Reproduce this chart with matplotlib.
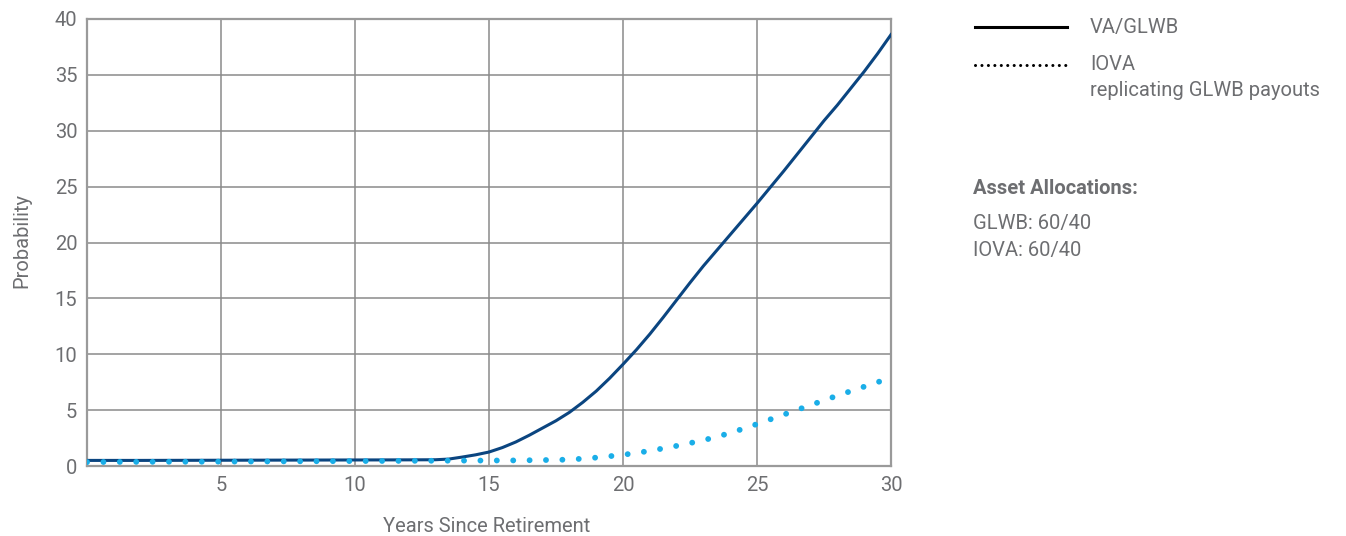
import matplotlib.pyplot as plt
from matplotlib.lines import Line2D

# VA/GLWB read at half-year steps so the bend stays smooth
va_years = [0, 2, 4, 6, 8, 10, 12, 13, 13.5, 14, 14.5, 15, 15.5, 16, 16.5, 17,
            17.5, 18, 18.5, 19, 19.5, 20, 20.5, 21, 21.5, 22, 22.5, 23, 23.5,
            24, 24.5, 25, 25.5, 26, 26.5, 27, 27.5, 28, 28.5, 29, 29.5, 30]
va_glwb = [0.50, 0.50, 0.51, 0.52, 0.53, 0.54, 0.55, 0.56, 0.62, 0.80, 1.00,
           1.25, 1.65, 2.15, 2.75, 3.40, 4.05, 4.80, 5.70, 6.70, 7.85, 9.10,
           10.40, 11.80, 13.30, 14.85, 16.40, 17.90, 19.30, 20.70, 22.10,
           23.50, 24.95, 26.40, 27.90, 29.40, 30.90, 32.30, 33.80, 35.30,
           36.90, 38.60]

iova_years = list(range(0, 31))
iova = [0.35, 0.36, 0.37, 0.38, 0.38, 0.39, 0.40, 0.41, 0.42, 0.43, 0.44,
        0.45, 0.46, 0.47, 0.48, 0.49, 0.50, 0.53, 0.57, 0.75, 1.0,
        1.35, 1.8, 2.3, 2.95, 3.75, 4.6, 5.45, 6.3, 7.1, 7.9]

x_ticks = [5, 10, 15, 20, 25, 30]
y_ticks = [0, 5, 10, 15, 20, 25, 30, 35, 40]

plt.rcParams["font.family"] = ["Roboto", "DejaVu Sans"]
gray = "#6d6e71"
fs = 14.5

fig = plt.figure(figsize=(13.46, 5.36), dpi=100)
W, H = 1346, 536
ax = fig.add_axes([87 / W, 1 - 466 / H, (891 - 87) / W, (466 - 19) / H])

ax.plot(va_years, va_glwb, color="#0b4580", linewidth=2.2, zorder=3)
ax.plot(iova_years, iova, color="#1aaee8", linewidth=4.2,
        linestyle=(0, (0.01, 2.8)), dash_capstyle="round", zorder=4)

ax.set_xlim(0, 30)
ax.set_ylim(0, 40)
ax.set_xticks(x_ticks)
ax.set_yticks(y_ticks)
ax.grid(True, color="#8a8a8a", linewidth=1.1)
ax.set_axisbelow(True)
ax.tick_params(length=0, labelsize=fs, labelcolor=gray, pad=7)
for s in ax.spines.values():
    s.set_color("#9a9a9a")
    s.set_linewidth(1.6)

# axis titles placed by figure position
fig.text(487 / W, 1 - 526 / H, "Years Since Retirement", fontsize=fs, color=gray,
         ha="center", va="center")
fig.text(22 / W, 1 - 240 / H, "Probability", fontsize=fs, color=gray,
         ha="center", va="center", rotation=90)

# legend, drawn by hand on the right side
fig.add_artist(Line2D([975 / W, 1067 / W], [1 - 27 / H, 1 - 27 / H],
                      color="black", linewidth=2.2, transform=fig.transFigure))
fig.add_artist(Line2D([975 / W, 1067 / W], [1 - 65 / H, 1 - 65 / H],
                      color="black", linewidth=2.2, linestyle=(0, (0.01, 2.1)),
                      dash_capstyle="round", transform=fig.transFigure))
fig.text(1090 / W, 1 - 28 / H, "VA/GLWB", fontsize=fs, color=gray, va="center")
fig.text(1090 / W, 1 - 65 / H, "IOVA", fontsize=fs, color=gray, va="center")
fig.text(1090 / W, 1 - 91 / H, "replicating GLWB payouts", fontsize=fs, color=gray, va="center")
fig.text(973 / W, 1 - 188 / H, "Asset Allocations:", fontsize=fs, color=gray,
         va="center", fontweight="bold")
fig.text(973 / W, 1 - 223 / H, "GLWB: 60/40", fontsize=fs, color=gray, va="center")
fig.text(973 / W, 1 - 250 / H, "IOVA: 60/40", fontsize=fs, color=gray, va="center")

plt.savefig("out.png", dpi=100)
